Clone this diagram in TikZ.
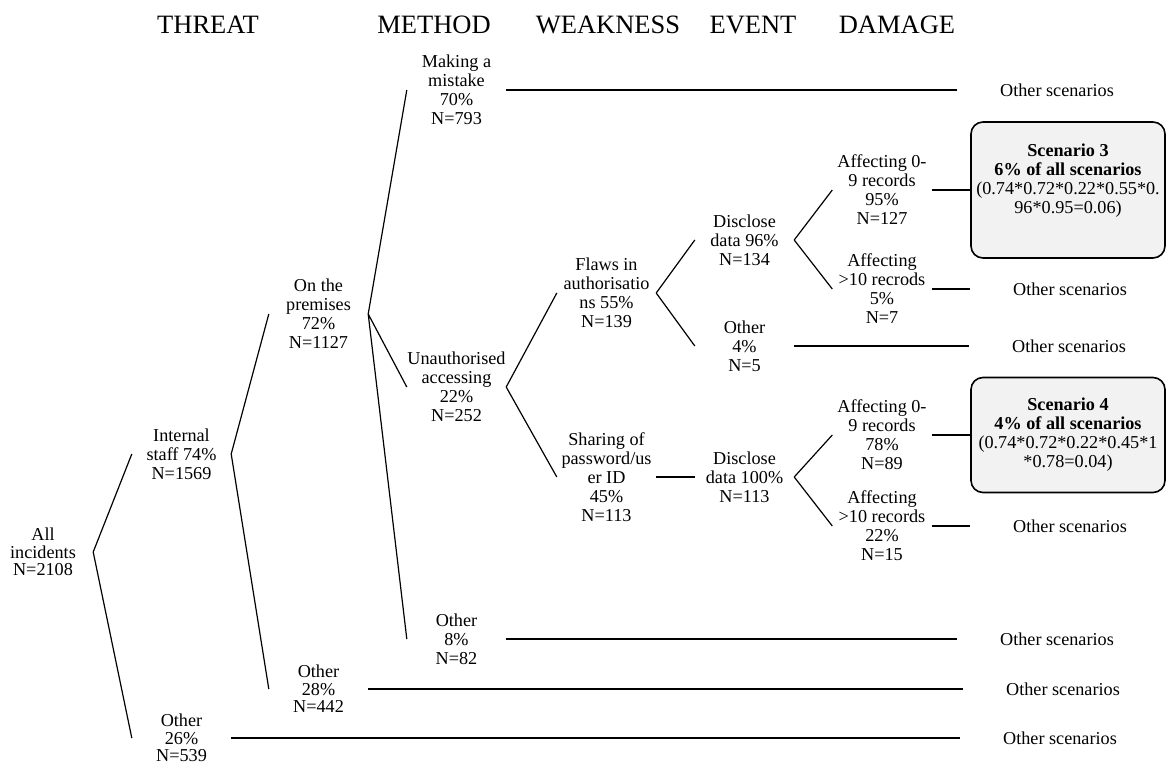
\documentclass[tikz,border=0pt]{standalone}
\usepackage{fontspec}
\setmainfont{Liberation Serif}
\newcommand{\txtfont}{\fontsize{18.2}{19}\selectfont}
\newcommand{\lowfont}{\fontsize{18.2}{17.6}\selectfont}
\newcommand{\headfont}{\fontsize{26.5}{30}\selectfont}
\tikzset{
  every node/.style={font=\txtfont},
  head/.style={font=\headfont, anchor=base, inner sep=0pt},
  col/.style={align=center, inner xsep=0pt, inner ysep=1pt, minimum width=99pt},
  low/.style={col, font=\lowfont},
  scen/.style={draw, line width=1.6pt, rounded corners=12pt, fill=gray!10, align=center, inner xsep=2pt, minimum width=194pt},
  other/.style={inner xsep=0pt, minimum width=200pt},
  branch/.style={line width=1.2pt}
}
\begin{document}
\begin{tikzpicture}[x=1pt, y=-1pt]
    \useasboundingbox (0,0) rectangle (1167,765);
    \node [head] (threat) at (208,34) {THREAT};
    \node [head] (method) at (434,34) {METHOD};
    \node [head] (weak) at (608,34) {WEAKNESS};
    \node [head] (event) at (753,34) {EVENT};
    \node [head] (damage) at (897,34) {DAMAGE};

    \node [low, minimum width=100pt] (all) at (43,552) {All\\incidents\\N=2108};
    \node [col] (staff) at (181.5,454) {Internal\\staff 74\%\\N=1569};
    \node [low] (oth26) at (181.5,738) {Other\\26\%\\N=539};
    \node [col] (prem) at (318.5,314) {On the\\premises\\72\%\\N=1127};
    \node [low] (oth28) at (318.5,689) {Other\\28\%\\N=442};
    \node [col] (mist) at (456.5,90) {Making a\\mistake\\70\%\\N=793};
    \node [col] (unauth) at (456.5,387) {Unauthorised\\accessing\\22\%\\N=252};
    \node [col] (oth8) at (456.5,639) {Other\\8\%\\N=82};
    \node [col] (flaws) at (606.5,293) {Flaws in\\authorisatio\\ns 55\%\\N=139};
    \node [col] (share) at (606.5,477) {Sharing of\\password/us\\er ID\\45\%\\N=113};
    \node [col] (disc96) at (744.5,240) {Disclose\\data 96\%\\N=134};
    \node [col] (oth4) at (744.5,346) {Other\\4\%\\N=5};
    \node [col] (disc100) at (744.5,477) {Disclose\\data 100\%\\N=113};
    \node [col] (aff95) at (882,190) {Affecting 0-\\9 records\\95\%\\N=127};
    \node [col] (aff5) at (882,289) {Affecting\\>10 recrods\\5\%\\N=7};
    \node [col] (aff78) at (882,435) {Affecting 0-\\9 records\\78\%\\N=89};
    \node [col] (aff22) at (882,526) {Affecting\\>10 records\\22\%\\N=15};

    \node [scen, minimum height=136pt] (sc3) at (1068,190) {\textbf{Scenario 3}\\\textbf{6\% of all scenarios}\\(0.74*0.72*0.22*0.55*0.\\96*0.95=0.06)\\[4pt]};
    \node [scen, minimum height=115pt] (sc4) at (1068,435) {\textbf{Scenario 4}\\\textbf{4\% of all scenarios}\\(0.74*0.72*0.22*0.45*1\\*0.78=0.04)};

    \node [other] (os1) at (1057,90) {Other scenarios};
    \node [other] (os2) at (1070,289) {Other scenarios};
    \node [other] (os3) at (1069,346) {Other scenarios};
    \node [other] (os4) at (1070,526) {Other scenarios};
    \node [other] (os5) at (1057,639) {Other scenarios};
    \node [other] (os6) at (1063,689) {Other scenarios};
    \node [other] (os7) at (1060,738) {Other scenarios};

    \draw [branch] (all.east) -- (staff.west) (all.east) -- (oth26.west);
    \draw [branch] (staff.east) -- (prem.west) (staff.east) -- (oth28.west);
    \draw [branch] (prem.east) -- (mist.west) (prem.east) -- (unauth.west) (prem.east) -- (oth8.west);
    \draw [branch] (unauth.east) -- (flaws.west) (unauth.east) -- (share.west);
    \draw [branch] (flaws.east) -- (disc96.west) (flaws.east) -- (oth4.west);
    \draw [branch] (share.east) -- (disc100.west);
    \draw [branch] (disc96.east) -- (aff95.west) (disc96.east) -- (aff5.west);
    \draw [branch] (disc100.east) -- (aff78.west) (disc100.east) -- (aff22.west);
    \draw [branch] (aff95.east) -- (sc3.west);
    \draw [branch] (aff78.east) -- (sc4.west);
    \draw [branch] (mist.east) -- (os1.west);
    \draw [branch] (aff5.east) -- (os2.west);
    \draw [branch] (oth4.east) -- (os3.west);
    \draw [branch] (aff22.east) -- (os4.west);
    \draw [branch] (oth8.east) -- (os5.west);
    \draw [branch] (oth28.east) -- (os6.west);
    \draw [branch] (oth26.east) -- (os7.west);
\end{tikzpicture}
\end{document}
